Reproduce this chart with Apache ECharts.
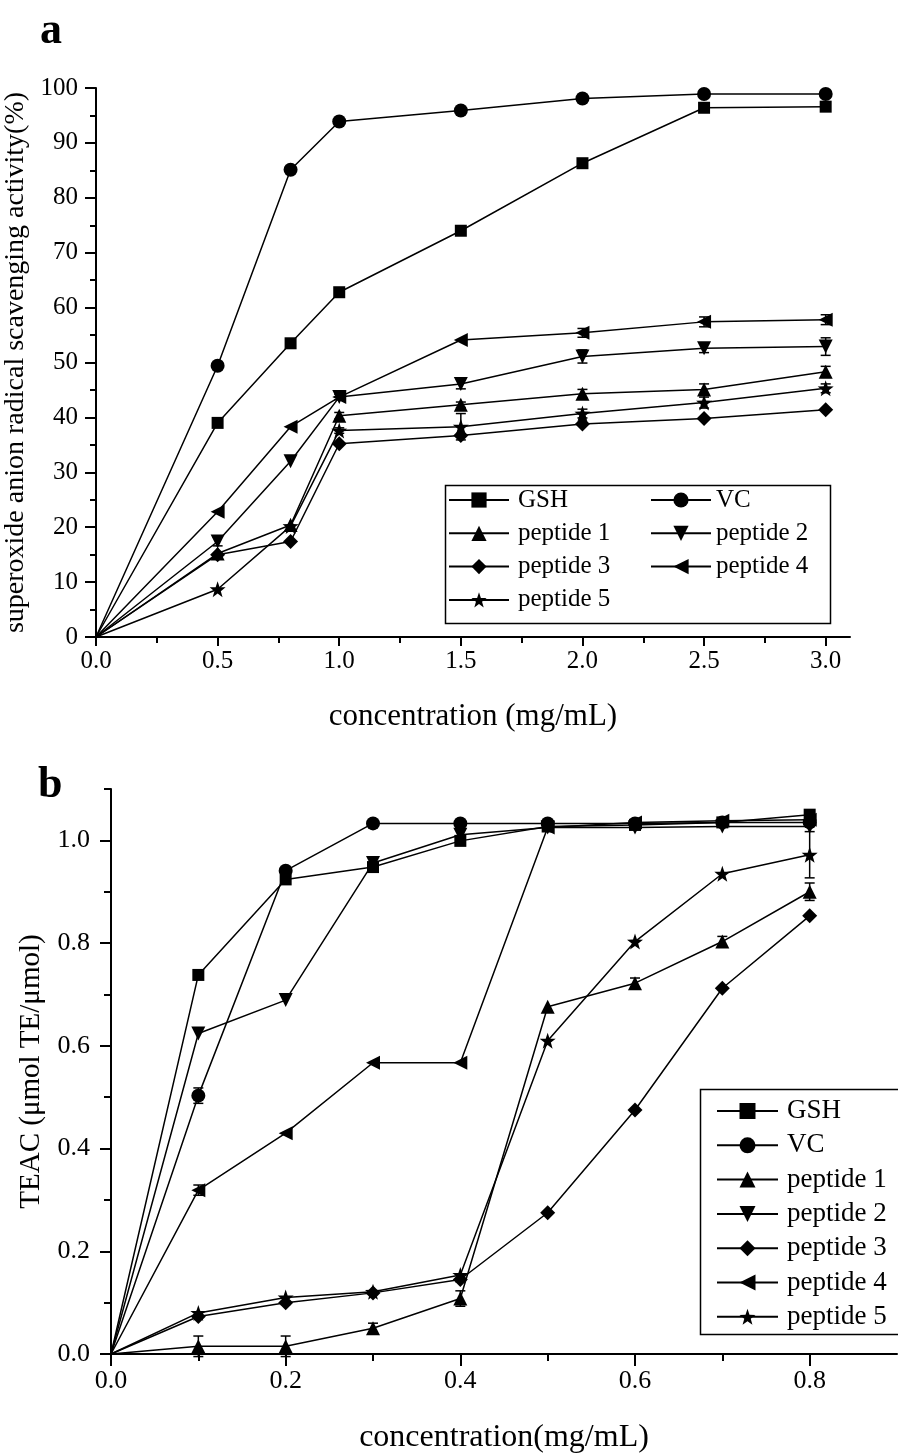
<!DOCTYPE html>
<html><head><meta charset="utf-8">
<script src="https://cdn.jsdelivr.net/npm/echarts@6/dist/echarts.min.js"></script>
<style>html,body{margin:0;padding:0;background:#fff}#c{width:898px;height:1453px}</style>
</head><body><div id="c"></div>
<script>
// ---------- data: panel a (superoxide anion radical scavenging) ----------
const xA = [0, 0.5, 0.8, 1.0, 1.5, 2.0, 2.5, 3.0];
const aGSH = [0, 39.0, 53.5, 62.8, 74.0, 86.3, 96.4, 96.6];
const aVC  = [0, 49.4, 85.1, 93.9, 95.9, 98.1, 98.9, 98.9];
const aP1  = [0, 15.2, 20.4, 40.3, 42.3, 44.3, 45.1, 48.3];
const aP2  = [0, 17.4, 32.0, 43.7, 46.1, 51.1, 52.6, 52.9];
const aP3  = [0, 15.0, 17.4, 35.2, 36.7, 38.8, 39.8, 41.4];
const aP4  = [0, 22.8, 38.3, 43.7, 54.1, 55.4, 57.4, 57.8];
const aP5  = [0, 8.7, 20.2, 37.6, 38.3, 40.7, 42.7, 45.3];
const aErrP1 = [0, 0, 0, 0.6, 0.5, 0.8, 1.0, 1.0];
const aErrP2 = [0, 0.8, 0, 0.5, 0.9, 1.2, 0.8, 1.6];
const aErrP4 = [0, 0, 0, 0, 0, 0.8, 0.9, 0.9];
const aErrP5 = [0, 0, 0, 0.5, 2.4, 0.8, 1.0, 0.8];
const xTicksA = [0, 0.5, 1.0, 1.5, 2.0, 2.5, 3.0];
const xMinorA = [0.25, 0.75, 1.25, 1.75, 2.25, 2.75];

// ---------- data: panel b (TEAC) ----------
const xB = [0, 0.1, 0.2, 0.3, 0.4, 0.5, 0.6, 0.7, 0.8];
const bGSH = [0, 0.738, 0.924, 0.948, 0.999, 1.027, 1.030, 1.035, 1.050];
const bVC  = [0, 0.503, 0.941, 1.033, 1.033, 1.033, 1.033, 1.035, 1.035];
const bP1  = [0, 0.015, 0.015, 0.050, 0.108, 0.676, 0.722, 0.803, 0.900];
const bP2  = [0, 0.624, 0.689, 0.956, 1.011, 1.025, 1.025, 1.027, 1.027];
const bP3  = [0, 0.073, 0.100, 0.119, 0.145, 0.275, 0.475, 0.712, 0.853];
const bP4  = [0, 0.319, 0.430, 0.567, 0.567, 1.025, 1.035, 1.038, 1.040];
const bP5  = [0, 0.080, 0.110, 0.121, 0.154, 0.610, 0.803, 0.935, 0.972];
const bErrVC = [0, 0.015, 0, 0, 0, 0, 0, 0, 0];
const bErrP1 = [0, 0.02, 0.02, 0.01, 0.015, 0, 0.01, 0.01, 0.017];
const bErrP4 = [0, 0.01, 0, 0, 0, 0, 0, 0, 0];
const bErrP5 = [0, 0, 0, 0, 0, 0, 0, 0, 0.045];
const xTicksB = [0, 0.2, 0.4, 0.6, 0.8];
const xMinorB = [0.1, 0.3, 0.5, 0.7];
const yTicksB = [0, 0.2, 0.4, 0.6, 0.8, 1.0];
const yMinorB = [0.1, 0.3, 0.5, 0.7, 0.9, 1.1];

const names = ['GSH', 'VC', 'peptide 1', 'peptide 2', 'peptide 3', 'peptide 4', 'peptide 5'];

const FONT = 'Liberation Serif';
const STAR = 'path://M0,-10L2.351,-3.236L9.511,-3.09L3.804,1.236L5.878,8.09L0,4L-5.878,8.09L-3.804,1.236L-9.511,-3.09L-2.351,-3.236Z';
const SYM = {
  'GSH': ['rect', 12],
  'VC': ['circle', 14],
  'peptide 1': ['triangle', 14],
  'peptide 2': ['path://M0,0L10,0L5,8.66Z', 14],
  'peptide 3': ['diamond', 15],
  'peptide 4': ['path://M0,5L8.66,0L8.66,10Z', 14],
  'peptide 5': [STAR, 16]
};

function lineSeries(name, xs, ys, xi, yi) {
  return {
    name, type: 'line', xAxisIndex: xi, yAxisIndex: yi,
    symbol: SYM[name][0], symbolSize: SYM[name][1],
    showAllSymbol: true,
    data: xs.map((x, i) => i === 0 ? { value: [x, ys[i]], symbol: 'none' } : [x, ys[i]]),
    lineStyle: { color: '#000', width: 1.5 },
    itemStyle: { color: '#000' },
    emphasis: { disabled: true },
    animation: false, z: 3
  };
}

function errSeries(id, xs, ys, es, xi, yi) {
  const data = [];
  xs.forEach((x, i) => { if (es[i] > 0) data.push([x, ys[i], es[i]]); });
  return {
    name: id, type: 'custom', xAxisIndex: xi, yAxisIndex: yi, silent: true, z: 2,
    data, encode: { x: 0, y: 1 }, animation: false,
    renderItem(params, api) {
      const x = api.value(0), y = api.value(1), e = api.value(2);
      const t = api.coord([x, y + e]), b = api.coord([x, y - e]);
      const w = 5, st = { stroke: '#000', lineWidth: 1.5 };
      return { type: 'group', children: [
        { type: 'line', shape: { x1: t[0], y1: t[1], x2: b[0], y2: b[1] }, style: st },
        { type: 'line', shape: { x1: t[0] - w, y1: t[1], x2: t[0] + w, y2: t[1] }, style: st },
        { type: 'line', shape: { x1: b[0] - w, y1: b[1], x2: b[0] + w, y2: b[1] }, style: st }
      ]};
    }
  };
}

const axLine = { show: true, onZero: false, lineStyle: { color: '#000', width: 2 } };
const lbl = { color: '#000', fontFamily: FONT, fontSize: 25 };

const option = {
  backgroundColor: '#fff',
  animation: false,
  title: [
    { text: 'a', left: 40, top: 10, padding: 0, textStyle: { fontFamily: FONT, fontSize: 44, fontWeight: 'bold', color: '#000' } },
    { text: 'b', left: 38, top: 764, padding: 0, textStyle: { fontFamily: FONT, fontSize: 44, fontWeight: 'bold', color: '#000' } }
  ],
  grid: [
    { left: 96, top: 88, width: 754, height: 549, outerBoundsMode: 'none', containLabel: false },
    { left: 111, top: 789, width: 786, height: 565, outerBoundsMode: 'none', containLabel: false }
  ],
  xAxis: [
    { gridIndex: 0, type: 'value', position: 'bottom', min: 0, max: 3.1,
      axisLine: axLine, splitLine: { show: false },
      axisTick: { show: true, inside: false, length: 9, customValues: xTicksA, lineStyle: { color: '#000', width: 2 } },
      axisLabel: Object.assign({ margin: 12, customValues: xTicksA, formatter: v => v.toFixed(1) }, lbl),
      name: 'concentration (mg/mL)', nameLocation: 'middle', nameGap: 64,
      nameTextStyle: { fontFamily: FONT, fontSize: 31, color: '#000' } },
    { gridIndex: 0, type: 'value', position: 'bottom', min: 0, max: 3.1,
      axisLine: { show: false }, splitLine: { show: false }, axisLabel: { show: false },
      axisTick: { show: true, inside: false, length: 6, customValues: xMinorA, lineStyle: { color: '#000', width: 2 } } },
    { gridIndex: 1, type: 'value', position: 'bottom', min: 0, max: 0.9,
      axisLine: axLine, splitLine: { show: false },
      axisTick: { show: true, inside: false, length: 12, customValues: xTicksB, lineStyle: { color: '#000', width: 2 } },
      axisLabel: Object.assign({ margin: 14, customValues: xTicksB, formatter: v => v.toFixed(1) }, lbl, { fontSize: 26 }),
      name: 'concentration(mg/mL)', nameLocation: 'middle', nameGap: 68,
      nameTextStyle: { fontFamily: FONT, fontSize: 32, color: '#000' } },
    { gridIndex: 1, type: 'value', position: 'bottom', min: 0, max: 0.9,
      axisLine: { show: false }, splitLine: { show: false }, axisLabel: { show: false },
      axisTick: { show: true, inside: false, length: 7, customValues: xMinorB, lineStyle: { color: '#000', width: 2 } } }
  ],
  yAxis: [
    { gridIndex: 0, type: 'value', position: 'left', min: 0, max: 100, interval: 10,
      axisLine: axLine, splitLine: { show: false },
      axisTick: { show: true, inside: false, length: 11, lineStyle: { color: '#000', width: 2 } },
      minorTick: { show: true, splitNumber: 2, length: 6, lineStyle: { color: '#000', width: 2 } },
      axisLabel: Object.assign({ margin: 18 }, lbl),
      name: 'superoxide anion radical scavenging activity(%)', nameLocation: 'middle', nameGap: 59,
      nameTextStyle: { fontFamily: FONT, fontSize: 28, color: '#000' } },
    { gridIndex: 1, type: 'value', position: 'left', min: 0, max: 1.1,
      axisLine: axLine, splitLine: { show: false },
      axisTick: { show: true, inside: false, length: 11, customValues: yTicksB, lineStyle: { color: '#000', width: 2 } },
      axisLabel: Object.assign({ margin: 21, customValues: yTicksB, formatter: v => v.toFixed(1) }, lbl, { fontSize: 26 }),
      name: 'TEAC (μmol TE/μmol)', nameLocation: 'middle', nameGap: 65,
      nameTextStyle: { fontFamily: FONT, fontSize: 29, color: '#000' } },
    { gridIndex: 1, type: 'value', position: 'left', min: 0, max: 1.1,
      axisLine: { show: false }, splitLine: { show: false }, axisLabel: { show: false },
      axisTick: { show: true, inside: false, length: 7, customValues: yMinorB, lineStyle: { color: '#000', width: 2 } } }
  ],
  legend: [
    { orient: 'vertical', left: 448, top: 487.5, padding: 0, itemGap: 8.3, itemWidth: 60, itemHeight: 19,
      data: ['GSH', 'peptide 1', 'peptide 3', 'peptide 5'], selectedMode: false,
      textStyle: { fontFamily: FONT, fontSize: 25, lineHeight: 25, color: '#000', padding: [0, 0, 0, 4] } },
    { orient: 'vertical', left: 650, top: 487.5, padding: 0, itemGap: 8.3, itemWidth: 60, itemHeight: 19,
      data: ['VC', 'peptide 2', 'peptide 4'], selectedMode: false,
      textStyle: { fontFamily: FONT, fontSize: 25, lineHeight: 25, color: '#000', padding: [0, 0, 0, 0] } },
    { orient: 'vertical', left: 716, top: 1097.5, padding: 0, itemGap: 7.3, itemWidth: 61, itemHeight: 20,
      data: names, selectedMode: false,
      textStyle: { fontFamily: FONT, fontSize: 27, lineHeight: 27, color: '#000', padding: [0, 0, 0, 4] } }
  ],
  graphic: [
    { type: 'rect', left: 443, top: 483, shape: { width: 385, height: 138 }, style: { fill: 'none', stroke: '#000', lineWidth: 1.5 }, silent: true },
    { type: 'rect', left: 698, top: 1087, shape: { width: 205, height: 245 }, style: { fill: 'none', stroke: '#000', lineWidth: 1.5 }, silent: true }
  ],
  series: [
    lineSeries('GSH', xA, aGSH, 0, 0),
    lineSeries('VC', xA, aVC, 0, 0),
    lineSeries('peptide 1', xA, aP1, 0, 0),
    lineSeries('peptide 2', xA, aP2, 0, 0),
    lineSeries('peptide 3', xA, aP3, 0, 0),
    lineSeries('peptide 4', xA, aP4, 0, 0),
    lineSeries('peptide 5', xA, aP5, 0, 0),
    errSeries('errA1', xA, aP1, aErrP1, 0, 0),
    errSeries('errA2', xA, aP2, aErrP2, 0, 0),
    errSeries('errA4', xA, aP4, aErrP4, 0, 0),
    errSeries('errA5', xA, aP5, aErrP5, 0, 0),
    lineSeries('GSH', xB, bGSH, 2, 1),
    lineSeries('VC', xB, bVC, 2, 1),
    lineSeries('peptide 1', xB, bP1, 2, 1),
    lineSeries('peptide 2', xB, bP2, 2, 1),
    lineSeries('peptide 3', xB, bP3, 2, 1),
    lineSeries('peptide 4', xB, bP4, 2, 1),
    lineSeries('peptide 5', xB, bP5, 2, 1),
    errSeries('errBVC', xB, bVC, bErrVC, 2, 1),
    errSeries('errB1', xB, bP1, bErrP1, 2, 1),
    errSeries('errB4', xB, bP4, bErrP4, 2, 1),
    errSeries('errB5', xB, bP5, bErrP5, 2, 1)
  ]
};

const chart = echarts.init(document.getElementById('c'), null, { renderer: 'canvas' });
chart.setOption(option);
</script>
</body></html>
